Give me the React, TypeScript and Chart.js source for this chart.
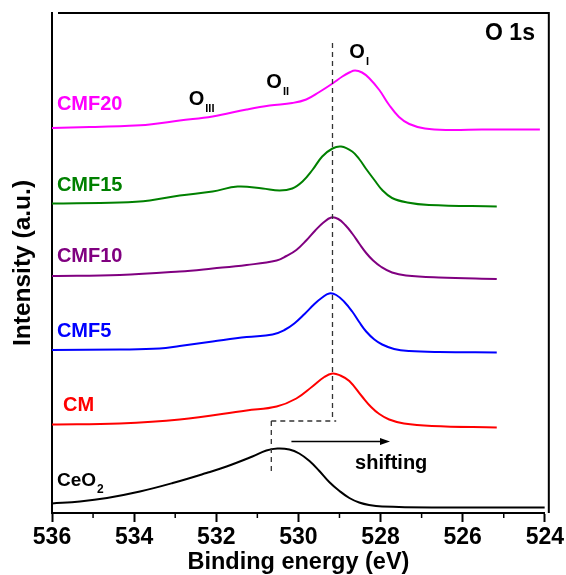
import React, { useEffect, useRef } from "react";
import { Chart, registerables } from "chart.js";

Chart.register(...registerables);

const FONT = 'Arial, "Liberation Sans", Helvetica, sans-serif';

// Binding energy (eV) and intensity (a.u.)
const cmf20Energy = [536.0, 535.08, 534.23, 533.62, 532.89, 532.09, 531.26, 530.7, 530.15, 529.81, 529.49, 529.17, 528.93, 528.76, 528.62, 528.45, 528.28, 528.03, 527.79, 527.55, 527.3, 526.92, 526.33, 525.53, 524.73, 524.12];
const cmf20Intensity = [77.0, 77.2, 77.4, 77.7, 78.5, 79.3, 80.7, 81.5, 82.0, 82.7, 84.2, 85.9, 87.3, 88.1, 88.5, 88.1, 87.0, 84.6, 81.6, 79.2, 77.8, 76.9, 76.6, 76.7, 76.7, 76.7];

const cmf15Energy = [536.0, 534.35, 533.62, 532.89, 532.09, 531.48, 530.87, 530.46, 530.15, 529.9, 529.66, 529.42, 529.17, 528.96, 528.69, 528.52, 528.35, 528.15, 527.96, 527.72, 527.35, 526.82, 525.17];
const cmf15Intensity = [61.9, 62.1, 62.5, 63.5, 64.3, 65.3, 64.9, 64.5, 64.9, 66.3, 68.6, 71.3, 72.9, 73.3, 72.3, 70.8, 68.8, 66.6, 64.6, 63.0, 62.1, 61.6, 61.3];

const cmf10Energy = [536.0, 534.35, 532.89, 532.09, 531.26, 530.53, 530.29, 530.05, 529.81, 529.59, 529.39, 529.2, 529.03, 528.86, 528.69, 528.52, 528.35, 528.18, 527.98, 527.72, 527.38, 526.58, 525.17];
const cmf10Intensity = [47.4, 47.6, 48.3, 48.9, 49.6, 50.5, 51.4, 52.6, 54.5, 56.5, 58.1, 59.1, 58.8, 57.6, 55.9, 53.9, 52.0, 50.5, 49.2, 48.1, 47.5, 47.1, 46.8];

const cmf5Energy = [536.0, 534.35, 533.38, 532.89, 532.09, 531.26, 530.63, 530.34, 530.1, 529.85, 529.61, 529.42, 529.25, 529.08, 528.88, 528.69, 528.52, 528.35, 528.15, 527.96, 527.67, 527.3, 526.58, 525.17];
const cmf5Intensity = [32.6, 32.7, 32.9, 33.4, 34.3, 35.2, 35.7, 36.6, 37.9, 39.8, 41.8, 43.1, 43.9, 43.6, 42.2, 40.3, 38.2, 36.3, 34.7, 33.7, 32.8, 32.4, 32.2, 32.1];

const cmEnergy = [536.0, 534.35, 532.89, 531.26, 530.53, 530.05, 529.66, 529.37, 529.17, 528.98, 528.76, 528.45, 528.23, 528.03, 527.79, 527.43, 526.75, 525.17];
const cmIntensity = [17.7, 17.9, 18.7, 20.5, 21.3, 22.9, 25.3, 27.2, 27.9, 27.5, 26.4, 23.3, 21.2, 19.8, 18.7, 17.9, 17.4, 17.1];

const ceo2Energy = [536.0, 535.32, 534.66, 533.86, 533.06, 532.24, 531.75, 531.12, 530.78, 530.51, 530.22, 529.98, 529.73, 529.49, 529.25, 529.0, 528.76, 528.52, 528.28, 527.96, 526.75, 524.0];
const ceo2Intensity = [1.9, 2.3, 3.0, 4.3, 6.0, 8.0, 9.3, 11.3, 12.5, 12.9, 12.7, 11.9, 10.4, 8.4, 6.2, 4.4, 3.0, 2.1, 1.6, 1.3, 1.1, 1.1];

const xMin = 524;
const xMax = 536;
const xStep = 2;
const minorTicks = [535, 533, 531, 529, 527, 525];

const sampleNames = ["CMF20", "CMF15", "CMF10", "CMF5", "CM", "CeO"];
const sampleColors = ["#ff00ff", "#008000", "#800080", "#0000ff", "#ff0000", "#000000"];
const labelEnergy = [535.88, 535.88, 535.88, 535.88, 535.73, 535.88];
const labelIntensity = [81.8, 65.6, 51.4, 36.3, 21.6, 6.5];

function pts(e: number[], v: number[]) {
  return e.map((x, i) => ({ x, y: v[i] }));
}

export default function App() {
  const ref = useRef<HTMLCanvasElement | null>(null);

  useEffect(() => {
    if (!ref.current) return;
    const series = [
      { label: "CMF20", e: cmf20Energy, v: cmf20Intensity, c: sampleColors[0] },
      { label: "CMF15", e: cmf15Energy, v: cmf15Intensity, c: sampleColors[1] },
      { label: "CMF10", e: cmf10Energy, v: cmf10Intensity, c: sampleColors[2] },
      { label: "CMF5", e: cmf5Energy, v: cmf5Intensity, c: sampleColors[3] },
      { label: "CM", e: cmEnergy, v: cmIntensity, c: sampleColors[4] },
      { label: "CeO2", e: ceo2Energy, v: ceo2Intensity, c: sampleColors[5] },
    ];

    const annot = {
      id: "annot",
      afterDraw(chart: any) {
        const { ctx, chartArea } = chart;
        const xs = chart.scales.x;
        const ys = chart.scales.y;
        const X = (v: number) => xs.getPixelForValue(v);
        const Y = (v: number) => ys.getPixelForValue(v);
        ctx.save();
        // frame top/right
        ctx.strokeStyle = "#000";
        ctx.lineWidth = 2;
        ctx.beginPath();
        ctx.moveTo(chartArea.left + 6, chartArea.top);
        ctx.lineTo(chartArea.right + 4, chartArea.top);
        ctx.lineTo(chartArea.right + 4, chartArea.bottom);
        ctx.stroke();
        // minor ticks
        ctx.lineWidth = 1.5;
        minorTicks.forEach((t) => {
          const px = X(t);
          ctx.beginPath();
          ctx.moveTo(px, chartArea.bottom);
          ctx.lineTo(px, chartArea.bottom + 5);
          ctx.stroke();
        });
        // dashed guide lines
        ctx.setLineDash([5, 4]);
        ctx.strokeStyle = "#333";
        ctx.lineWidth = 1.3;
        ctx.beginPath();
        ctx.moveTo(X(529.17), Y(94));
        ctx.lineTo(X(529.17), Y(18.4));
        ctx.moveTo(X(530.66), Y(18.4));
        ctx.lineTo(X(529.08), Y(18.4));
        ctx.moveTo(X(530.66), Y(18.4));
        ctx.lineTo(X(530.66), Y(8.2));
        ctx.stroke();
        ctx.setLineDash([]);
        // arrow
        const ay = Y(14.3);
        const ax0 = X(530.17);
        const ax1 = X(527.77);
        ctx.strokeStyle = "#000";
        ctx.fillStyle = "#000";
        ctx.lineWidth = 1.3;
        ctx.beginPath();
        ctx.moveTo(ax0, ay);
        ctx.lineTo(ax1 - 8, ay);
        ctx.stroke();
        ctx.beginPath();
        ctx.moveTo(ax1, ay);
        ctx.lineTo(ax1 - 10, ay - 3.5);
        ctx.lineTo(ax1 - 10, ay + 3.5);
        ctx.closePath();
        ctx.fill();
        // texts
        ctx.textBaseline = "middle";
        ctx.textAlign = "left";
        sampleNames.forEach((n, i) => {
          ctx.fillStyle = sampleColors[i];
          ctx.font = `bold ${i === 5 ? 19 : 20}px ${FONT}`;
          const px = X(labelEnergy[i]);
          const py = Y(labelIntensity[i]);
          ctx.fillText(n, px, py);
          if (i === 5) {
            const w = ctx.measureText(n).width;
            ctx.font = `bold 12px ${FONT}`;
            ctx.fillText("2", px + w + 1, py + 9);
          }
        });
        ctx.fillStyle = "#000";
        ctx.textAlign = "right";
        ctx.font = `bold 23px ${FONT}`;
        ctx.fillText("O 1s", X(524.24), Y(95.8));
        ctx.textAlign = "left";
        const os: [number, number, string][] = [
          [528.76, 92.2, "I"],
          [530.78, 86.2, "II"],
          [532.67, 82.8, "III"],
        ];
        os.forEach(([e, v, s]) => {
          const px = X(e);
          const py = Y(v);
          ctx.font = `bold 20px ${FONT}`;
          ctx.fillText("O", px, py);
          const w = ctx.measureText("O").width;
          ctx.font = `bold 11px ${FONT}`;
          ctx.fillText(s, px + w + 1, py + 10);
        });
        ctx.textAlign = "center";
        ctx.font = `bold 20px ${FONT}`;
        ctx.fillText("shifting", X(527.74), Y(10));
        ctx.restore();
      },
    };

    const chart = new Chart(ref.current, {
      type: "line",
      data: {
        datasets: series.map((s) => ({
          label: s.label,
          data: pts(s.e, s.v),
          borderColor: s.c,
          backgroundColor: s.c,
          borderWidth: 2,
          pointRadius: 0,
          fill: false,
          tension: 0.4,
        })),
      },
      options: {
        responsive: false,
        animation: false,
        layout: { padding: { top: 13, right: 20, left: 0, bottom: 0 } },
        plugins: { legend: { display: false }, tooltip: { enabled: false } },
        scales: {
          x: {
            type: "linear",
            reverse: true,
            min: xMin,
            max: xMax,
            afterFit: (s: any) => {
              s.height = 62;
            },
            ticks: {
              stepSize: xStep,
              color: "#000",
              font: { family: FONT, size: 23, weight: "bold" },
              padding: 2,
              maxRotation: 0,
            },
            grid: {
              display: true,
              drawOnChartArea: false,
              drawTicks: true,
              tickLength: 9,
              tickWidth: 2,
              tickColor: "#000",
              color: "#000",
            },
            border: { display: true, color: "#000", width: 2 },
            title: {
              display: true,
              text: "Binding energy (eV)",
              color: "#000",
              font: { family: FONT, size: 23.5, weight: "bold", lineHeight: 1 },
              padding: { top: 0, bottom: 1 },
            },
          },
          y: {
            type: "linear",
            min: 0,
            max: 100,
            afterFit: (s: any) => {
              s.width = 52;
            },
            ticks: { display: false },
            grid: { display: false },
            border: { display: true, color: "#000", width: 2 },
            title: {
              display: true,
              text: "Intensity (a.u.)",
              color: "#000",
              font: { family: FONT, size: 24.5, weight: "bold", lineHeight: 1 },
              padding: { top: 10.5, bottom: 0 },
            },
          },
        },
      },
      plugins: [annot],
    });
    return () => chart.destroy();
  }, []);

  return (
    <div style={{ position: "absolute", left: 0, top: 0, width: 566, height: 575, background: "#fff" }}>
      <canvas ref={ref} width={566} height={575} style={{ display: "block" }} />
    </div>
  );
}
